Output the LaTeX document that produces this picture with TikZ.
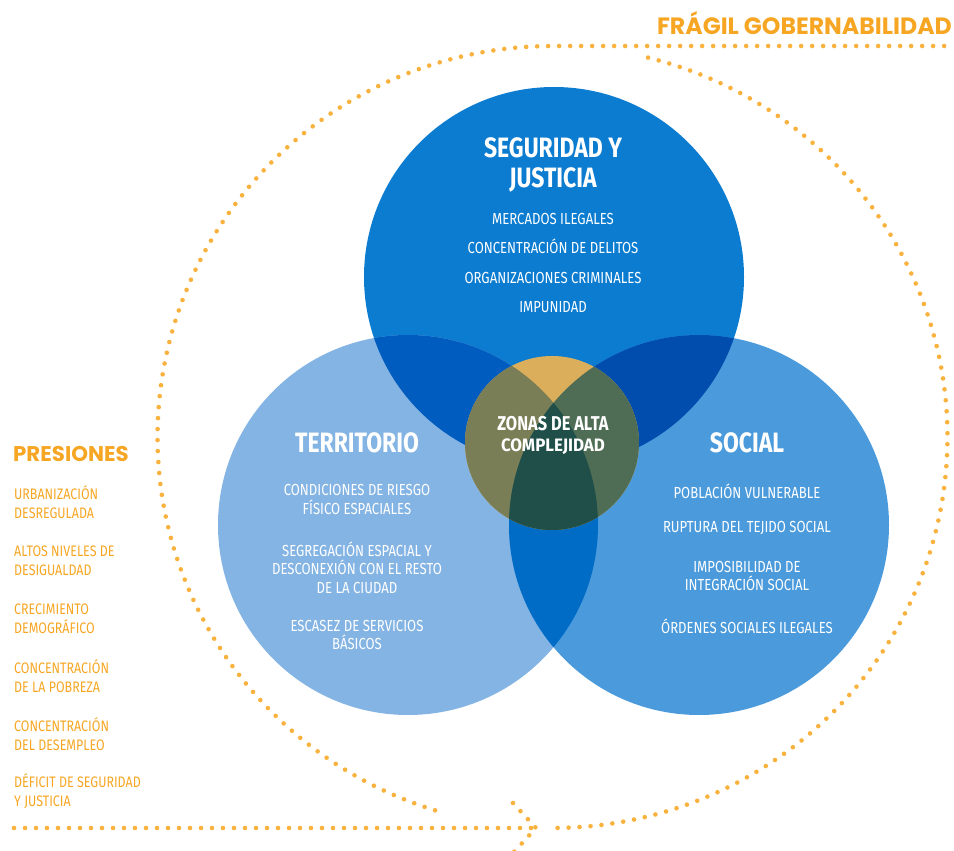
\documentclass[tikz,border=0pt]{standalone}
\usepackage{fontspec}
\setmainfont{Fira Sans}
\newfontfamily\cond[FakeStretch=0.82]{Fira Sans}
\newfontfamily\condw[FakeStretch=0.94]{Fira Sans}
\newfontfamily\pop{Poppins}
\definecolor{cT}{HTML}{0B7CD0}
\definecolor{cL}{HTML}{84B4E3}
\definecolor{cR}{HTML}{4B9BDC}
\definecolor{cTL}{HTML}{005CBE}
\definecolor{cTR}{HTML}{004DAE}
\definecolor{cLR}{HTML}{006CC6}
\definecolor{cGold}{HTML}{DBAE5B}
\definecolor{cOlive}{HTML}{7A7E56}
\definecolor{cGreen}{HTML}{4E6D54}
\definecolor{cDark}{HTML}{1F4F48}
\definecolor{orangeT}{HTML}{F6A623}
\definecolor{dotc}{HTML}{F9B23E}
\begin{document}
\begin{tikzpicture}[x=1pt,y=-1pt,
  ttl/.style={text=white, font=\cond\bfseries\fontsize{28}{30}\selectfont, align=center, inner sep=0pt},
  itm/.style={text=white, font=\cond\fontsize{16}{18.5}\selectfont, align=center, inner sep=0pt},
  lst/.style={text=orangeT, font=\cond\fontsize{15.2}{19.2}\selectfont, align=left, anchor=west, inner sep=0pt},
  hdr/.style={text=orangeT, font=\pop\bfseries\fontsize{21.3}{23}\selectfont, inner sep=0pt},
  ring/.style={draw=dotc, line width=4.6pt, line cap=round, dash pattern=on 0pt off 11pt}]
\clip (0,0) rectangle (954,851);
% circles
\def\cT{(554,277) circle[radius=190pt]}
\def\cL{(408,525) circle[radius=190pt]}
\def\cR{(699,525) circle[radius=190pt]}
\def\cC{(552,443) circle[radius=87pt]}
\fill[cT] \cT;
\fill[cL] \cL;
\fill[cR] \cR;
\begin{scope}\clip \cT; \fill[cTL] \cL; \end{scope}
\begin{scope}\clip \cT; \fill[cTR] \cR; \end{scope}
\begin{scope}\clip \cL; \fill[cLR] \cR; \end{scope}
\fill[cGold] \cC;
\begin{scope}\clip \cC; \fill[cOlive] \cL; \fill[cGreen] \cR;
  \clip \cL; \fill[cDark] \cR; \end{scope}
% dotted ring
\draw[ring] plot[domain=252.7:90, samples=120] ({552.5+395*cos(\x)},{437-391*sin(\x)}) -- (954,46);
\draw[ring] plot[domain=76:-90, samples=120] ({552.5+395*cos(\x)},{437-391*sin(\x)});
\coordinate (bl) at (14,828);
\coordinate (tip) at (536,828);
\coordinate (aw1) at (513,803);
\coordinate (aw2) at (513,853);
\draw[ring] (bl) -- (tip);
\draw[ring] (aw1) -- (tip) -- (aw2);
% headings
\node[hdr, anchor=east, font=\pop\bfseries\fontsize{23.6}{25}\selectfont] (fragil) at (952,23) {FRÁGIL GOBERNABILIDAD};
\node[hdr, anchor=west] (presiones) at (13,454) {PRESIONES};
\node[lst] (p1) at (14,502.5) {URBANIZACIÓN\\DESREGULADA};
\node[lst] (p2) at (14,560.5) {ALTOS NIVELES DE\\DESIGUALDAD};
\node[lst] (p3) at (14,618.5) {CRECIMIENTO\\DEMOGRÁFICO};
\node[lst] (p4) at (14,676) {CONCENTRACIÓN\\DE LA POBREZA};
\node[lst] (p5) at (14,734) {CONCENTRACIÓN\\DEL DESEMPLEO};
\node[lst] (p6) at (14,791.5) {DÉFICIT DE SEGURIDAD\\Y JUSTICIA};
% seguridad
\node[ttl] (segT) at (553,165) {SEGURIDAD Y\\JUSTICIA};
\node[itm, font=\cond\fontsize{16}{29.5}\selectfont] (segI) at (553,263) {MERCADOS ILEGALES\\CONCENTRACIÓN DE DELITOS\\ORGANIZACIONES CRIMINALES\\IMPUNIDAD};
% territorio
\node[ttl] (terT) at (357,443) {TERRITORIO};
\node[itm] (ter1) at (357,499.5) {CONDICIONES DE RIESGO\\FÍSICO ESPACIALES};
\node[itm] (ter2) at (357,567.5) {SEGREGACIÓN ESPACIAL Y\\DESCONEXIÓN CON EL RESTO\\DE LA CIUDAD};
\node[itm] (ter3) at (357,635) {ESCASEZ DE SERVICIOS\\BÁSICOS};
% social
\node[ttl] (socT) at (747,443) {SOCIAL};
\node[itm] (soc1) at (747,491) {POBLACIÓN VULNERABLE};
\node[itm] (soc2) at (747,528) {RUPTURA DEL TEJIDO SOCIAL};
\node[itm] (soc3) at (747,576) {IMPOSIBILIDAD DE\\INTEGRACIÓN SOCIAL};
\node[itm] (soc4) at (747,626) {ÓRDENES SOCIALES ILEGALES};
% centre
\node[ttl, font=\cond\bfseries\fontsize{20}{22}\selectfont] (zon1) at (553,424) {ZONAS DE ALTA};
\node[ttl, font=\condw\bfseries\fontsize{18}{20}\selectfont] (zon2) at (553,447) {COMPLEJIDAD};
\end{tikzpicture}
\end{document}
